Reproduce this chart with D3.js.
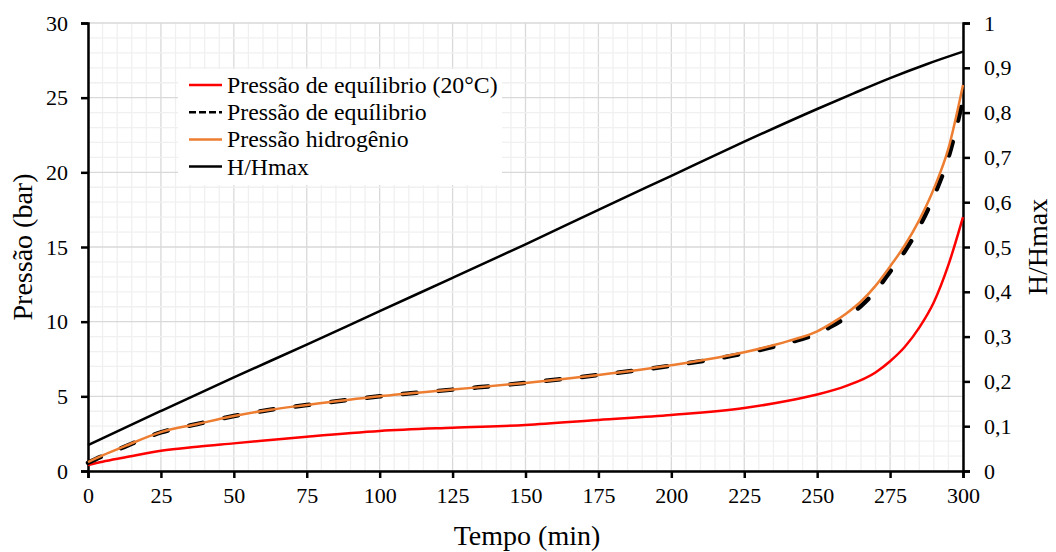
<!DOCTYPE html>
<html>
<head>
<meta charset="utf-8">
<script src="https://cdn.jsdelivr.net/npm/d3@7"></script>
<style>
  body { margin: 0; background: #fff; }
  text { font-family: "Liberation Serif", "Times New Roman", serif; fill: #000; }
</style>
</head>
<body>
<svg id="svg" width="1056" height="552"></svg>
<script>
// tempo (min) for each series
var tH2 = [0, 5, 12.5, 25, 37.5, 50, 62.5, 75, 100, 125, 150, 175, 200, 225, 240, 250, 255, 260, 265, 270, 275, 280, 285, 290, 295, 300];
var pH2 = [0.6, 1.05, 1.65, 2.6, 3.15, 3.68, 4.1, 4.42, 5.0, 5.45, 5.9, 6.43, 7.08, 7.95, 8.7, 9.35, 9.9, 10.55, 11.35, 12.4, 13.7, 15.1, 16.8, 18.9, 21.6, 25.85];
var pEq = [0.55, 1.0, 1.62, 2.58, 3.15, 3.68, 4.1, 4.42, 5.0, 5.45, 5.9, 6.43, 7.05, 7.88, 8.58, 9.2, 9.7, 10.3, 11.05, 12.05, 13.35, 14.7, 16.35, 18.4, 21.0, 24.9];

var t20 = [0, 5, 12.5, 25, 37.5, 50, 75, 100, 125, 150, 175, 200, 225, 240, 250, 260, 270, 275, 280, 285, 290, 295, 300];
var p20 = [0.4, 0.62, 0.9, 1.36, 1.63, 1.85, 2.3, 2.68, 2.9, 3.08, 3.42, 3.75, 4.22, 4.7, 5.12, 5.7, 6.6, 7.35, 8.3, 9.6, 11.3, 13.8, 17.0];

var tH = [0, 25, 50, 75, 100, 125, 150, 175, 200, 225, 250, 262.5, 275, 287.5, 300];
var hRatio = [0.058, 0.134, 0.209, 0.282, 0.357, 0.431, 0.506, 0.583, 0.659, 0.735, 0.808, 0.843, 0.877, 0.908, 0.936];

var xTicks = [0, 25, 50, 75, 100, 125, 150, 175, 200, 225, 250, 275, 300];
var yTicks = [0, 5, 10, 15, 20, 25, 30];
var y2Ticks = [0, 0.1, 0.2, 0.3, 0.4, 0.5, 0.6, 0.7, 0.8, 0.9, 1];

var legendNames = ["Pressão de equílibrio (20°C)", "Pressão de equílibrio", "Pressão hidrogênio", "H/Hmax"];

var svg = d3.select("#svg");
var mLeft = 88, mRight = 963, mTop = 23, mBottom = 471;

var x = d3.scaleLinear().domain([0, 300]).range([mLeft, mRight]);
var y = d3.scaleLinear().domain([0, 30]).range([mBottom, mTop]);
var y2 = d3.scaleLinear().domain([0, 1]).range([mBottom, mTop]);

// grid
var grid = svg.append("g");
grid.selectAll(".vg").data(d3.range(0, 301, 5)).enter().append("line")
    .attr("x1", d => x(d)).attr("x2", d => x(d)).attr("y1", mTop).attr("y2", mBottom)
    .attr("stroke", d => d % 25 == 0 ? "#d9d9d9" : "#f0f0f0").attr("stroke-width", 1.3);
grid.selectAll(".hg").data(d3.range(0, 31, 1)).enter().append("line")
    .attr("y1", d => y(d)).attr("y2", d => y(d)).attr("x1", mLeft).attr("x2", mRight)
    .attr("stroke", d => d % 5 == 0 ? "#d9d9d9" : "#f0f0f0").attr("stroke-width", 1.3);

// axes
var fmt = d3.format("");
var ax = svg.append("g").attr("transform", "translate(0," + mBottom + ")")
    .call(d3.axisBottom(x).tickValues(xTicks).tickSize(7).tickPadding(9).tickFormat(fmt));
var ay = svg.append("g").attr("transform", "translate(" + mLeft + ",0)")
    .call(d3.axisLeft(y).tickValues(yTicks).tickSize(7).tickPadding(13).tickFormat(fmt));
var ay2 = svg.append("g").attr("transform", "translate(" + mRight + ",0)")
    .call(d3.axisRight(y2).tickValues(y2Ticks).tickSize(7).tickPadding(14)
      .tickFormat(d => String(+d.toFixed(1)).replace(".", ",")));

[ax, ay, ay2].forEach(function(a) {
  a.attr("font-family", null);
  a.select(".domain").attr("stroke", "#000").attr("stroke-width", 2.5);
  a.selectAll(".tick line").attr("stroke", "#000").attr("stroke-width", 2.5);
  a.selectAll(".tick text")
    .style("font-family", "'Liberation Serif', 'Times New Roman', serif")
    .style("font-size", "22px").attr("fill", "#000");
});

// lines
var line = function(ts, scaleY) {
  return d3.line().x((d, i) => x(ts[i])).y(d => scaleY(d)).curve(d3.curveMonotoneX);
};

svg.append("path").datum(p20).attr("d", line(t20, y))
    .attr("fill", "none").attr("stroke", "#ff0000").attr("stroke-width", 2.5);
svg.append("path").datum(pEq).attr("d", line(tH2, y))
    .attr("fill", "none").attr("stroke", "#000").attr("stroke-width", 4.5)
    .attr("stroke-dasharray", "14,22").attr("stroke-linecap", "round");
svg.append("path").datum(pH2).attr("d", line(tH2, y))
    .attr("fill", "none").attr("stroke", "#ed7d31").attr("stroke-width", 2.5);
svg.append("path").datum(hRatio).attr("d", line(tH, y2))
    .attr("fill", "none").attr("stroke", "#000").attr("stroke-width", 2.5);

// legend
var lg = svg.append("g");
lg.append("rect").attr("x", 178).attr("y", 69).attr("width", 324).attr("height", 116).attr("fill", "#fff");
var styles = [
  {c: "#ff0000", dash: null},
  {c: "#000", dash: "7,3"},
  {c: "#ed7d31", dash: null},
  {c: "#000", dash: null}
];
legendNames.forEach(function(name, i) {
  var yy = 85 + i * 27.2;
  lg.append("line").attr("x1", 189).attr("x2", 222).attr("y1", yy).attr("y2", yy)
    .attr("stroke", styles[i].c).attr("stroke-width", 2.5)
    .attr("stroke-dasharray", styles[i].dash);
  lg.append("text").attr("x", 227).attr("y", yy + 8).attr("font-size", 23.8).text(name);
});

// titles
svg.append("text").attr("x", 527).attr("y", 545).attr("text-anchor", "middle")
    .attr("font-size", 28).text("Tempo (min)");
svg.append("text").attr("transform", "translate(32,247) rotate(-90)").attr("text-anchor", "middle")
    .attr("font-size", 28).text("Pressão (bar)");
svg.append("text").attr("transform", "translate(1047,247) rotate(-90)").attr("text-anchor", "middle")
    .attr("font-size", 28).text("H/Hmax");
</script>
</body>
</html>
